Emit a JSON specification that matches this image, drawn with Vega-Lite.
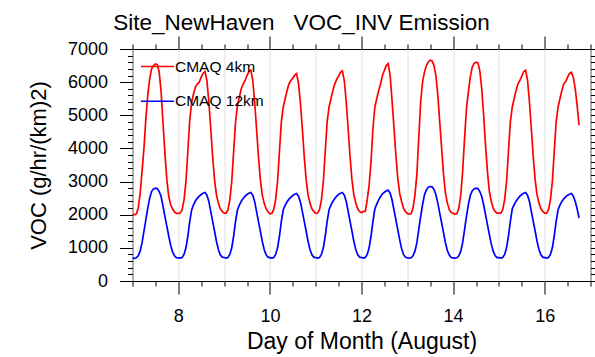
{
  "$schema": "https://vega.github.io/schema/vega-lite/v6.json",
  "width": 458,
  "height": 232,
  "autosize": {"type": "none"},
  "padding": {"left": 132.5, "top": 49, "right": 4.5, "bottom": 76},
  "background": "white",
  "title": {
    "text": "Site_NewHaven\u00a0\u00a0\u00a0VOC_INV Emission",
    "font": "Liberation Sans",
    "fontSize": 22.5,
    "fontWeight": "normal",
    "color": "black",
    "anchor": "middle",
    "dx": -60,
    "dy": 26,
    "baseline": "alphabetic",
    "offset": 9
  },
  "config": {
    "view": {"stroke": "black", "strokeWidth": 1},
    "font": "Liberation Sans",
    "axis": {
      "domain": false,
      "tickColor": "black",
      "tickWidth": 1,
      "labelColor": "black",
      "titleColor": "black",
      "labelFont": "Liberation Sans",
      "titleFont": "Liberation Sans",
      "titleFontWeight": "normal",
      "labelFlush": false,
      "labelOverlap": false
    }
  },
  "datasets": {
    "voc": [
      {"t":7,"r":2000,"b":690},{"t":7.042,"r":2000,"b":685},{"t":7.083,"r":2020,"b":700},{"t":7.125,"r":2200,"b":760},{"t":7.167,"r":2650,"b":900},{"t":7.208,"r":3300,"b":1150},{"t":7.25,"r":4000,"b":1500},{"t":7.292,"r":4900,"b":1850},{"t":7.333,"r":5600,"b":2200},{"t":7.375,"r":6100,"b":2500},{"t":7.417,"r":6400,"b":2700},{"t":7.458,"r":6500,"b":2780},{"t":7.5,"r":6550,"b":2800},{"t":7.542,"r":6530,"b":2790},{"t":7.583,"r":6300,"b":2700},{"t":7.625,"r":5700,"b":2550},{"t":7.667,"r":4750,"b":2250},{"t":7.708,"r":3850,"b":1950},{"t":7.75,"r":3050,"b":1650},{"t":7.792,"r":2550,"b":1350},{"t":7.833,"r":2300,"b":1080},{"t":7.875,"r":2170,"b":880},{"t":7.917,"r":2080,"b":760},{"t":7.958,"r":2040,"b":705},
      {"t":8,"r":2040,"b":700},{"t":8.042,"r":2050,"b":690},{"t":8.083,"r":2150,"b":710},{"t":8.125,"r":2450,"b":800},{"t":8.167,"r":3000,"b":1000},{"t":8.208,"r":3900,"b":1350},{"t":8.25,"r":4850,"b":1800},{"t":8.292,"r":5400,"b":2150},{"t":8.333,"r":5650,"b":2300},{"t":8.375,"r":5850,"b":2420},{"t":8.417,"r":5950,"b":2500},{"t":8.458,"r":6000,"b":2560},{"t":8.5,"r":6150,"b":2610},{"t":8.542,"r":6270,"b":2650},{"t":8.583,"r":6320,"b":2670},{"t":8.625,"r":6050,"b":2590},{"t":8.667,"r":5400,"b":2400},{"t":8.708,"r":4600,"b":2100},{"t":8.75,"r":3750,"b":1800},{"t":8.792,"r":3050,"b":1500},{"t":8.833,"r":2600,"b":1200},{"t":8.875,"r":2350,"b":950},{"t":8.917,"r":2180,"b":790},{"t":8.958,"r":2100,"b":720},
      {"t":9,"r":2050,"b":710},{"t":9.042,"r":2050,"b":690},{"t":9.083,"r":2140,"b":710},{"t":9.125,"r":2450,"b":800},{"t":9.167,"r":3000,"b":1000},{"t":9.208,"r":3900,"b":1350},{"t":9.25,"r":4800,"b":1800},{"t":9.292,"r":5300,"b":2150},{"t":9.333,"r":5550,"b":2290},{"t":9.375,"r":5800,"b":2410},{"t":9.417,"r":5950,"b":2490},{"t":9.458,"r":6050,"b":2560},{"t":9.5,"r":6200,"b":2610},{"t":9.542,"r":6320,"b":2650},{"t":9.583,"r":6360,"b":2670},{"t":9.625,"r":6060,"b":2590},{"t":9.667,"r":5400,"b":2400},{"t":9.708,"r":4600,"b":2100},{"t":9.75,"r":3750,"b":1800},{"t":9.792,"r":3050,"b":1500},{"t":9.833,"r":2600,"b":1200},{"t":9.875,"r":2350,"b":950},{"t":9.917,"r":2180,"b":790},{"t":9.958,"r":2090,"b":720},
      {"t":10,"r":2030,"b":705},{"t":10.042,"r":2040,"b":690},{"t":10.083,"r":2150,"b":710},{"t":10.125,"r":2450,"b":800},{"t":10.167,"r":3000,"b":1000},{"t":10.208,"r":3900,"b":1350},{"t":10.25,"r":4800,"b":1800},{"t":10.292,"r":5250,"b":2150},{"t":10.333,"r":5500,"b":2280},{"t":10.375,"r":5750,"b":2390},{"t":10.417,"r":5950,"b":2470},{"t":10.458,"r":6050,"b":2530},{"t":10.5,"r":6120,"b":2580},{"t":10.542,"r":6210,"b":2620},{"t":10.583,"r":6260,"b":2640},{"t":10.625,"r":5960,"b":2560},{"t":10.667,"r":5350,"b":2380},{"t":10.708,"r":4600,"b":2100},{"t":10.75,"r":3750,"b":1800},{"t":10.792,"r":3050,"b":1500},{"t":10.833,"r":2600,"b":1200},{"t":10.875,"r":2350,"b":950},{"t":10.917,"r":2180,"b":790},{"t":10.958,"r":2100,"b":720},
      {"t":11,"r":2040,"b":705},{"t":11.042,"r":2050,"b":690},{"t":11.083,"r":2150,"b":710},{"t":11.125,"r":2450,"b":800},{"t":11.167,"r":3000,"b":1000},{"t":11.208,"r":3900,"b":1350},{"t":11.25,"r":4800,"b":1800},{"t":11.292,"r":5250,"b":2150},{"t":11.333,"r":5500,"b":2290},{"t":11.375,"r":5750,"b":2400},{"t":11.417,"r":5950,"b":2490},{"t":11.458,"r":6080,"b":2560},{"t":11.5,"r":6180,"b":2610},{"t":11.542,"r":6300,"b":2650},{"t":11.583,"r":6340,"b":2670},{"t":11.625,"r":6040,"b":2590},{"t":11.667,"r":5400,"b":2400},{"t":11.708,"r":4600,"b":2100},{"t":11.75,"r":3750,"b":1800},{"t":11.792,"r":3050,"b":1500},{"t":11.833,"r":2600,"b":1200},{"t":11.875,"r":2350,"b":950},{"t":11.917,"r":2180,"b":790},{"t":11.958,"r":2100,"b":720},
      {"t":12,"r":2060,"b":710},{"t":12.042,"r":2100,"b":690},{"t":12.083,"r":2100,"b":710},{"t":12.125,"r":2450,"b":800},{"t":12.167,"r":2900,"b":1000},{"t":12.208,"r":3600,"b":1350},{"t":12.25,"r":4600,"b":1800},{"t":12.292,"r":5250,"b":2180},{"t":12.333,"r":5500,"b":2320},{"t":12.375,"r":5750,"b":2450},{"t":12.417,"r":5950,"b":2550},{"t":12.458,"r":6200,"b":2630},{"t":12.5,"r":6360,"b":2680},{"t":12.542,"r":6500,"b":2720},{"t":12.583,"r":6560,"b":2740},{"t":12.625,"r":6200,"b":2650},{"t":12.667,"r":5450,"b":2450},{"t":12.708,"r":4650,"b":2150},{"t":12.75,"r":3800,"b":1850},{"t":12.792,"r":3100,"b":1550},{"t":12.833,"r":2650,"b":1250},{"t":12.875,"r":2400,"b":980},{"t":12.917,"r":2200,"b":800},{"t":12.958,"r":2100,"b":720},
      {"t":13,"r":2040,"b":700},{"t":13.042,"r":2020,"b":690},{"t":13.083,"r":2030,"b":700},{"t":13.125,"r":2200,"b":760},{"t":13.167,"r":2600,"b":900},{"t":13.208,"r":3200,"b":1150},{"t":13.25,"r":4300,"b":1550},{"t":13.292,"r":5400,"b":1950},{"t":13.333,"r":6000,"b":2300},{"t":13.375,"r":6300,"b":2600},{"t":13.417,"r":6500,"b":2750},{"t":13.458,"r":6610,"b":2830},{"t":13.5,"r":6660,"b":2850},{"t":13.542,"r":6640,"b":2840},{"t":13.583,"r":6500,"b":2760},{"t":13.625,"r":6200,"b":2600},{"t":13.667,"r":5600,"b":2350},{"t":13.708,"r":4800,"b":2050},{"t":13.75,"r":4000,"b":1750},{"t":13.792,"r":3200,"b":1450},{"t":13.833,"r":2650,"b":1150},{"t":13.875,"r":2350,"b":920},{"t":13.917,"r":2150,"b":780},{"t":13.958,"r":2070,"b":710},
      {"t":14,"r":2040,"b":700},{"t":14.042,"r":2020,"b":690},{"t":14.083,"r":2030,"b":700},{"t":14.125,"r":2200,"b":760},{"t":14.167,"r":2600,"b":900},{"t":14.208,"r":3300,"b":1150},{"t":14.25,"r":4300,"b":1550},{"t":14.292,"r":5200,"b":1950},{"t":14.333,"r":5700,"b":2300},{"t":14.375,"r":6150,"b":2580},{"t":14.417,"r":6450,"b":2720},{"t":14.458,"r":6560,"b":2780},{"t":14.5,"r":6600,"b":2800},{"t":14.542,"r":6580,"b":2790},{"t":14.583,"r":6350,"b":2700},{"t":14.625,"r":5800,"b":2550},{"t":14.667,"r":5000,"b":2300},{"t":14.708,"r":4100,"b":2000},{"t":14.75,"r":3300,"b":1700},{"t":14.792,"r":2700,"b":1400},{"t":14.833,"r":2400,"b":1120},{"t":14.875,"r":2200,"b":900},{"t":14.917,"r":2100,"b":770},{"t":14.958,"r":2050,"b":705},
      {"t":15,"r":2050,"b":705},{"t":15.042,"r":2050,"b":690},{"t":15.083,"r":2150,"b":710},{"t":15.125,"r":2450,"b":800},{"t":15.167,"r":3000,"b":1000},{"t":15.208,"r":3900,"b":1350},{"t":15.25,"r":4800,"b":1800},{"t":15.292,"r":5250,"b":2180},{"t":15.333,"r":5500,"b":2300},{"t":15.375,"r":5750,"b":2410},{"t":15.417,"r":5950,"b":2490},{"t":15.458,"r":6050,"b":2560},{"t":15.5,"r":6180,"b":2610},{"t":15.542,"r":6320,"b":2650},{"t":15.583,"r":6360,"b":2670},{"t":15.625,"r":6060,"b":2590},{"t":15.667,"r":5400,"b":2400},{"t":15.708,"r":4600,"b":2100},{"t":15.75,"r":3750,"b":1800},{"t":15.792,"r":3050,"b":1500},{"t":15.833,"r":2600,"b":1200},{"t":15.875,"r":2350,"b":950},{"t":15.917,"r":2180,"b":790},{"t":15.958,"r":2100,"b":720},
      {"t":16,"r":2050,"b":705},{"t":16.042,"r":2050,"b":690},{"t":16.083,"r":2150,"b":710},{"t":16.125,"r":2450,"b":800},{"t":16.167,"r":3000,"b":1000},{"t":16.208,"r":3900,"b":1350},{"t":16.25,"r":4800,"b":1800},{"t":16.292,"r":5250,"b":2150},{"t":16.333,"r":5500,"b":2290},{"t":16.375,"r":5750,"b":2400},{"t":16.417,"r":5950,"b":2480},{"t":16.458,"r":6020,"b":2540},{"t":16.5,"r":6150,"b":2590},{"t":16.542,"r":6260,"b":2620},{"t":16.583,"r":6300,"b":2640},{"t":16.625,"r":6150,"b":2560},{"t":16.667,"r":5800,"b":2400},{"t":16.708,"r":5300,"b":2180},{"t":16.75,"r":4700,"b":1900}
    ]
  },
  "data": {"name": "voc"},
  "transform": [{"fold": ["r", "b"], "as": ["run", "voc"]}],
  "layer": [
    {
      "mark": {"type": "line", "strokeWidth": 1.7},
      "encoding": {
        "x": {
          "field": "t",
          "type": "quantitative",
          "scale": {"domain": [7, 17], "nice": false, "zero": false},
          "axis": {
            "orient": "bottom",
            "values": [7,7.5,8,8.5,9,9.5,10,10.5,11,11.5,12,12.5,13,13.5,14,14.5,15,15.5,16,16.5,17],
            "labelExpr": "datum.value % 2 === 0 ? format(datum.value, 'd') : ''",
            "tickSize": {"condition": {"test": "datum.value % 2 === 0", "value": 13}, "value": 5},
            "labelFontSize": 18,
            "labelPadding": 13,
            "grid": true,
            "gridColor": "#e0e0e0",
            "gridWidth": 1,
            "gridOpacity": {"condition": {"test": "datum.value % 1 === 0", "value": 1}, "value": 0},
            "title": "Day of Month (August)",
            "titleFontSize": 23,
            "titlePadding": 5
          }
        },
        "y": {
          "field": "voc",
          "type": "quantitative",
          "scale": {"domain": [0, 7000], "nice": false},
          "axis": {
            "orient": "left",
            "values": [0,200,400,600,800,1000,1200,1400,1600,1800,2000,2200,2400,2600,2800,3000,3200,3400,3600,3800,4000,4200,4400,4600,4800,5000,5200,5400,5600,5800,6000,6200,6400,6600,6800,7000],
            "labelExpr": "datum.value % 1000 === 0 ? format(datum.value, 'd') : ''",
            "tickSize": {"condition": {"test": "datum.value % 1000 === 0", "value": 13}, "value": 5},
            "labelFontSize": 18,
            "labelPadding": 12,
            "grid": false,
            "title": "VOC (g/hr/(km)2)",
            "titleFontSize": 22,
            "titlePadding": 17
          }
        },
        "color": {
          "field": "run",
          "type": "nominal",
          "scale": {"domain": ["r", "b"], "range": ["#ff0000", "#0000ff"]},
          "legend": {
            "orient": "none",
            "legendX": 7.5,
            "legendY": 0,
            "title": null,
            "padding": 0,
            "symbolType": "stroke",
            "symbolSize": 1089,
            "symbolStrokeWidth": 1.6,
            "labelFont": "Liberation Sans",
            "labelFontSize": 15.5,
            "labelColor": "black",
            "labelOffset": 0,
            "rowPadding": 8.7,
            "labelExpr": "datum.label === 'r' ? 'CMAQ 4km' : 'CMAQ 12km'"
          }
        }
      }
    },
    {
      "mark": {"type": "line", "opacity": 0},
      "encoding": {
        "x": {
          "field": "t",
          "type": "quantitative",
          "axis": {
            "orient": "top",
            "values": [7,7.5,8,8.5,9,9.5,10,10.5,11,11.5,12,12.5,13,13.5,14,14.5,15,15.5,16,16.5,17],
            "labels": false,
            "tickSize": {"condition": {"test": "datum.value % 2 === 0", "value": 13}, "value": 5},
            "grid": false,
            "title": null
          }
        },
        "y": {
          "field": "voc",
          "type": "quantitative",
          "axis": {
            "orient": "right",
            "values": [0,200,400,600,800,1000,1200,1400,1600,1800,2000,2200,2400,2600,2800,3000,3200,3400,3600,3800,4000,4200,4400,4600,4800,5000,5200,5400,5600,5800,6000,6200,6400,6600,6800,7000],
            "labels": false,
            "tickSize": {"condition": {"test": "datum.value % 1000 === 0", "value": 13}, "value": 5},
            "grid": false,
            "title": null
          }
        },
        "detail": {"field": "run"}
      }
    }
  ],
  "resolve": {"axis": {"x": "independent", "y": "independent"}}
}
